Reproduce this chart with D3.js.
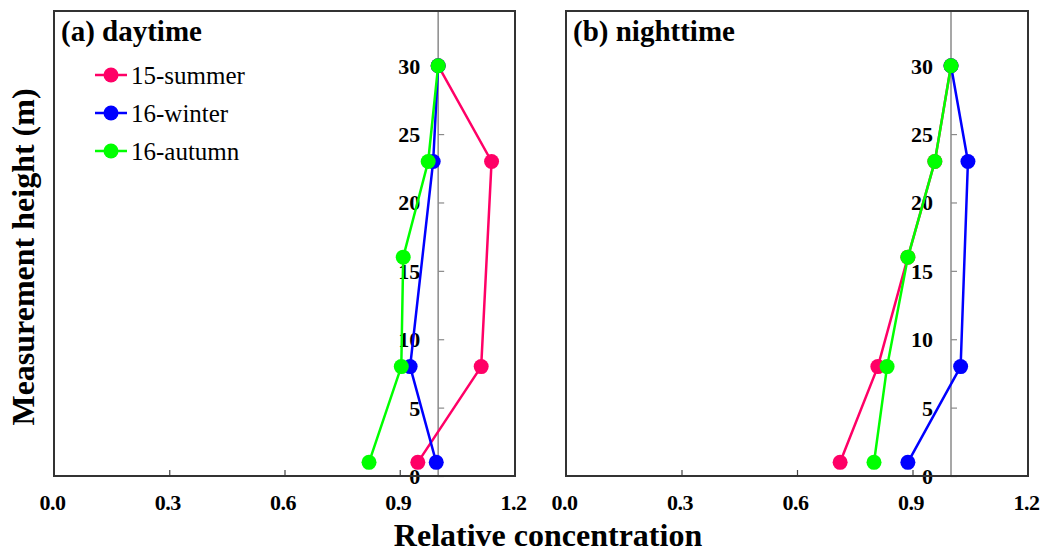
<!DOCTYPE html>
<html>
<head>
<meta charset="utf-8">
<script src="https://cdn.jsdelivr.net/npm/d3@7"></script>
<style>
  html, body { margin: 0; padding: 0; background: #fff; }
  svg { display: block; }
  text { font-family: "Liberation Serif", "Times New Roman", serif; }
</style>
</head>
<body>
<svg id="chart" width="1043" height="560"></svg>
<script>
// ---- data ----
const seriesNames = ["15-summer", "16-winter", "16-autumn"];
const seriesColors = ["#ff0066", "#0000ff", "#00ff00"];
const panelTitles = ["(a) daytime", "(b) nighttime"];
const xTicks = [0.0, 0.3, 0.6, 0.9, 1.2];
const yTicks = [0, 5, 10, 15, 20, 25, 30];

// daytime
const daySummerH = [1, 8, 23, 30];
const daySummerV = [0.947, 1.112, 1.139, 1.0];
const dayWinterH = [1, 8, 23, 30];
const dayWinterV = [0.995, 0.927, 0.987, 1.0];
const dayAutumnH = [1, 8, 16, 23, 30];
const dayAutumnV = [0.820, 0.904, 0.909, 0.974, 1.0];

// nighttime
const nightSummerH = [1, 8, 16, 23, 30];
const nightSummerV = [0.712, 0.810, 0.888, 0.958, 1.0];
const nightWinterH = [1, 8, 23, 30];
const nightWinterV = [0.888, 1.025, 1.044, 1.0];
const nightAutumnH = [1, 8, 16, 23, 30];
const nightAutumnV = [0.800, 0.834, 0.888, 0.958, 1.0];

const zip = (h, v) => h.map((d, i) => ({ h: d, v: v[i] }));
const panels = [
  { title: panelTitles[0], left: 54, right: 515, legend: true,
    series: [zip(daySummerH, daySummerV), zip(dayWinterH, dayWinterV), zip(dayAutumnH, dayAutumnV)] },
  { title: panelTitles[1], left: 566, right: 1028, legend: false,
    series: [zip(nightSummerH, nightSummerV), zip(nightWinterH, nightWinterV), zip(nightAutumnH, nightAutumnV)] }
];

// ---- drawing ----
const svg = d3.select("#chart");
const plotTop = 11, plotBottom = 476;
const serif = '"Liberation Serif", "Times New Roman", serif';

panels.forEach(p => {
  const x = d3.scaleLinear().domain([0, 1.2]).range([p.left, p.right]);
  const y = d3.scaleLinear().domain([0, 34]).range([plotBottom, plotTop]);
  const g = svg.append("g");

  // bottom axis (ticks inward)
  const xa = g.append("g")
    .attr("transform", `translate(0,${plotBottom})`)
    .call(d3.axisBottom(x).tickValues(xTicks).tickSizeInner(-6).tickSizeOuter(0)
      .tickFormat(d3.format(".1f")));
  xa.select(".domain").remove();
  xa.selectAll(".tick line").attr("stroke", "#444").attr("stroke-width", 1.2)
    .filter(d => d === 0 || d === 1.2).remove();
  xa.selectAll(".tick text")
    .attr("y", 34).attr("dy", 0).attr("dx", -2)
    .attr("font-size", 22).attr("font-weight", "bold").attr("fill", "#000")
    .attr("letter-spacing", -0.5)
    .style("font-family", serif);

  // vertical reference axis at x = 1.0
  const ax = x(1.0);
  g.append("line")
    .attr("x1", ax).attr("x2", ax).attr("y1", plotTop).attr("y2", plotBottom)
    .attr("stroke", "#8a8a8a").attr("stroke-width", 1.5);
  const ya = g.append("g")
    .attr("transform", `translate(${ax},0)`)
    .call(d3.axisRight(y).tickValues(yTicks).tickSize(6));
  ya.select(".domain").remove();
  ya.selectAll(".tick line").attr("stroke", "#8a8a8a").attr("stroke-width", 1.2);
  ya.selectAll(".tick text")
    .attr("x", -18).attr("dy", "0.34em").attr("text-anchor", "end")
    .attr("font-size", 22).attr("font-weight", "bold").attr("fill", "#000")
    .style("font-family", serif);

  // series
  const line = d3.line().x(d => x(d.v)).y(d => y(d.h));
  p.series.forEach((s, i) => {
    g.append("path").datum(s)
      .attr("d", line).attr("fill", "none")
      .attr("stroke", seriesColors[i]).attr("stroke-width", 2.5);
    g.selectAll(null).data(s).enter().append("circle")
      .attr("cx", d => x(d.v)).attr("cy", d => y(d.h)).attr("r", 7.5)
      .attr("fill", seriesColors[i]);
  });

  // frame
  g.append("rect")
    .attr("x", p.left).attr("y", plotTop)
    .attr("width", p.right - p.left).attr("height", plotBottom - plotTop)
    .attr("fill", "none").attr("stroke", "#333").attr("stroke-width", 2);

  // title
  g.append("text")
    .attr("x", p.left + 7).attr("y", 41)
    .attr("font-size", 29).attr("font-weight", "bold")
    .text(p.title);

  // legend
  if (p.legend) {
    const ly = d3.scalePoint().domain(seriesNames).range([75, 151]);
    seriesNames.forEach((n, i) => {
      const yy = ly(n);
      g.append("line").attr("x1", 95).attr("x2", 127).attr("y1", yy).attr("y2", yy)
        .attr("stroke", seriesColors[i]).attr("stroke-width", 2.5);
      g.append("circle").attr("cx", 111).attr("cy", yy).attr("r", 7.5)
        .attr("fill", seriesColors[i]);
      g.append("text").attr("x", 131).attr("y", yy).attr("dy", "0.34em")
        .attr("font-size", 25).text(n);
    });
  }
});

// axis titles
svg.append("text")
  .attr("x", 548).attr("y", 546)
  .attr("text-anchor", "middle")
  .attr("font-size", 32).attr("font-weight", "bold")
  .text("Relative concentration");
svg.append("text")
  .attr("transform", "translate(34,257) rotate(-90)")
  .attr("text-anchor", "middle")
  .attr("font-size", 32).attr("font-weight", "bold")
  .text("Measurement height (m)");
</script>
</body>
</html>
